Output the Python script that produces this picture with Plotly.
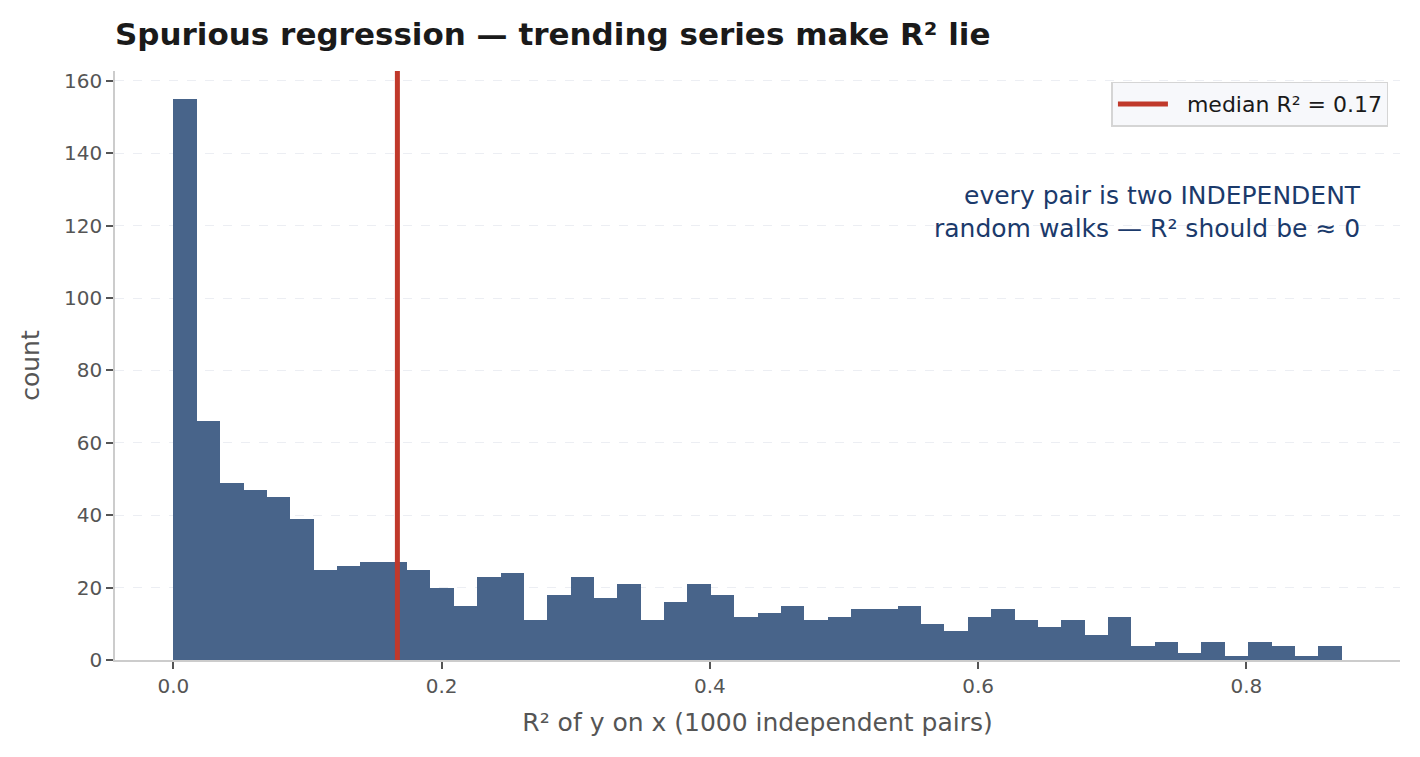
import numpy as np
import plotly.graph_objects as go

# histogram of R^2 from 1000 independent random-walk pairs
counts = [155, 66, 49, 47, 45, 39, 25, 26, 27, 27,
          25, 20, 15, 23, 24, 11, 18, 23, 17, 21,
          11, 16, 21, 18, 12, 13, 15, 11, 12, 14,
          14, 15, 10, 8, 12, 14, 11, 9, 11, 7,
          12, 4, 5, 2, 5, 1, 5, 4, 1, 4]
r2_min = 0.0
r2_max = 0.871
median_r2 = 0.167
n_pairs = 1000
xticks = [0.0, 0.2, 0.4, 0.6, 0.8]

edges = np.linspace(r2_min, r2_max, len(counts) + 1)
centers = (edges[:-1] + edges[1:]) / 2
bw = edges[1] - edges[0]

pad_x = 0.05 * (r2_max - r2_min)
y_top = max(counts) * 1.05

fig = go.Figure()
fig.add_trace(go.Bar(x=centers, y=counts, width=bw,
                     marker=dict(color="#48648a", line=dict(width=0)),
                     showlegend=False, hoverinfo="x+y"))
fig.add_trace(go.Scatter(x=[median_r2, median_r2], y=[0, y_top], mode="lines",
                         line=dict(color="#c0392b", width=5),
                         name="\u00a0 median R² = %.2f" % median_r2))

fig.add_annotation(text="every pair is two INDEPENDENT<br>random walks — R² should be ≈ 0",
                   xref="paper", yref="paper", x=0.9715, y=0.760,
                   xanchor="right", yanchor="middle", align="right",
                   showarrow=False, font=dict(size=25, color="#1b3a6b"))

axis_common = dict(showline=True, linecolor="#cccccc", linewidth=1.5,
                   ticks="outside", ticklen=7, tickwidth=1.5, tickcolor="#555555",
                   tickfont=dict(size=20, color="#555555"),
                   zeroline=False, mirror=False)

# the page adds an 8px body margin, so margins are shifted to compensate
fig.update_layout(
    width=1420, height=757,
    margin=dict(l=107, r=28, t=63, b=105),
    paper_bgcolor="white", plot_bgcolor="white",
    font=dict(family="DejaVu Sans", color="#333333"),
    title=dict(text="<b>Spurious regression — trending series make R² lie</b>",
               x=0, xref="paper", xanchor="left",
               y=1 - 26 / 757, yref="container", yanchor="middle",
               font=dict(size=31, color="#1a1a1a")),
    bargap=0,
    legend=dict(x=0.991, y=0.982, xanchor="right", yanchor="top",
                bgcolor="#f7f8fb", bordercolor="#d5d5d5", borderwidth=1.5,
                itemwidth=50,
                font=dict(size=22, color="#1a1a1a")),
    xaxis=dict(range=[r2_min - pad_x, r2_max + pad_x], tickvals=xticks,
               tickformat=".1f", showgrid=False,
               title=dict(text="R² of y on x (%d independent pairs)" % n_pairs,
                          font=dict(size=25, color="#555555"), standoff=17),
               **axis_common),
    yaxis=dict(range=[0, y_top], dtick=20, showgrid=True,
               gridcolor="#eceef3", griddash="dash", gridwidth=1,
               title=dict(text="count", font=dict(size=25, color="#555555"), standoff=17),
               **axis_common),
)

fig.write_html("out.html")
